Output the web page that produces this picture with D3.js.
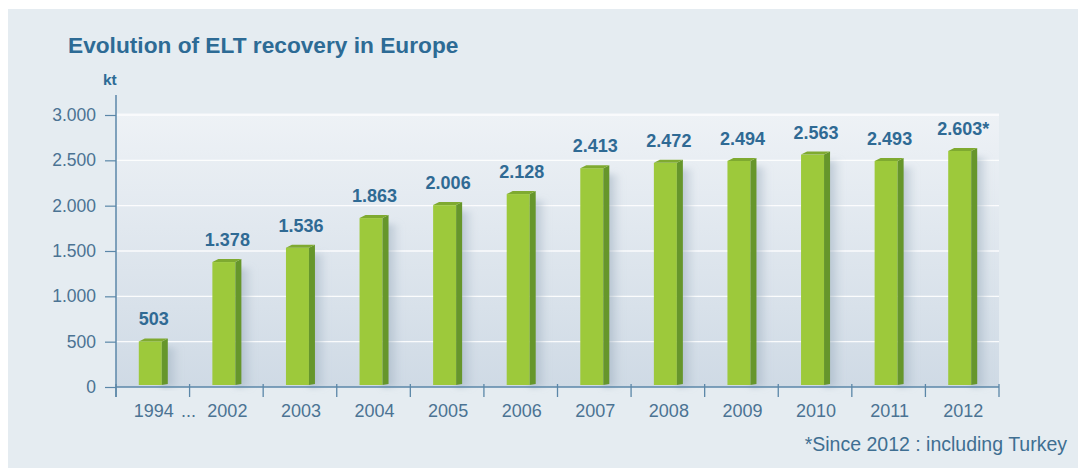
<!DOCTYPE html>
<html><head><meta charset="utf-8">
<script src="https://cdn.jsdelivr.net/npm/d3@7"></script>
<style>html,body{margin:0;padding:0;background:#fff;}svg{display:block;font-family:"Liberation Sans",Arial,sans-serif;}</style>
</head><body>
<script>
const categories = ["1994","2002","2003","2004","2005","2006","2007","2008","2009","2010","2011","2012"];
const values = [503,1378,1536,1863,2006,2128,2413,2472,2494,2563,2493,2603];
const valueLabels = ["503","1.378","1.536","1.863","2.006","2.128","2.413","2.472","2.494","2.563","2.493","2.603*"];
const yTicks = [0,500,1000,1500,2000,2500,3000];
const yTickLabels = ["0","500","1.000","1.500","2.000","2.500","3.000"];

const W=1078,H=468;
const svg=d3.select("body").append("svg").attr("width",W).attr("height",H);
const defs=svg.append("defs");
const pg=defs.append("linearGradient").attr("id","plotbg").attr("x1",0).attr("y1",0).attr("x2",0).attr("y2",1);
pg.append("stop").attr("offset","0%").attr("stop-color","#eef2f6");
pg.append("stop").attr("offset","100%").attr("stop-color","#cfdae5");
const sg=defs.append("linearGradient").attr("id","shade").attr("x1",0).attr("y1",0).attr("x2",1).attr("y2",0);
sg.append("stop").attr("offset","0%").attr("stop-color","#9fb0c0").attr("stop-opacity",0.8);
sg.append("stop").attr("offset","100%").attr("stop-color","#9fb0c0").attr("stop-opacity",0);
const blur=defs.append("filter").attr("id","blur").attr("x","-50%").attr("y","-10%").attr("width","200%").attr("height","120%");
blur.append("feGaussianBlur").attr("stdDeviation",3);

// panel
svg.append("rect").attr("x",8).attr("y",9).attr("width",W-8).attr("height",H-9).attr("fill","#e5ecf1");

const m={l:116,r:999,t:115,b:387};
const x=d3.scaleBand().domain(categories).range([m.l,m.r]).padding(0);
const y=d3.scaleLinear().domain([0,3000]).range([m.b,m.t]);

svg.append("rect").attr("x",m.l).attr("y",m.t-2).attr("width",m.r-m.l).attr("height",m.b-m.t+2).attr("fill","url(#plotbg)");

// grid
svg.append("g").selectAll("line").data(yTicks.filter(d=>d>0)).join("line")
  .attr("x1",m.l).attr("x2",m.r).attr("y1",d=>y(d)).attr("y2",d=>y(d))
  .attr("stroke","#ffffff").attr("stroke-width",1.3).attr("opacity",0.9);

// bars
const fw=23, sw=6, sk=3;
const bars=svg.append("g").selectAll("g").data(categories).join("g");
bars.each(function(c,i){
  const g=d3.select(this);
  const cx=x(c)+x.bandwidth()/2;
  const x0=cx-14, x1=x0+fw, x2=x1+sw;
  const yt=y(values[i]), yb=y(0);
  g.append("rect").attr("x",x1).attr("y",yt+6).attr("width",18).attr("height",yb-yt-6).attr("fill","url(#shade)").attr("filter","url(#blur)");
  g.append("rect").attr("x",x0).attr("y",yt).attr("width",fw).attr("height",yb-yt-2).attr("fill","#9dc93b");
  g.append("path").attr("d",`M${x1},${yt}L${x2},${yt-sk}L${x2},${yb-3}L${x1},${yb-2}Z`).attr("fill","#66962b");
  g.append("path").attr("d",`M${x0},${yt}L${x0+sw},${yt-sk}L${x2},${yt-sk}L${x1},${yt}Z`).attr("fill","#7faa30");
  g.append("text").attr("x",cx+1).attr("y",yt-16).attr("text-anchor","middle")
    .attr("font-size",18).attr("font-weight","bold").attr("fill","#2f6a94").text(valueLabels[i]);
});

// y axis
const yAxis=d3.axisLeft(y).tickValues(yTicks).tickFormat((d,i)=>yTickLabels[i]).tickSize(11).tickPadding(9);
const gy=svg.append("g").attr("transform",`translate(${m.l},0)`).call(yAxis);
gy.select(".domain").remove();
gy.selectAll("line").attr("stroke","#5b87a8").attr("stroke-width",1.2);
gy.selectAll("text").attr("font-size",17.5).attr("fill","#4b7393").attr("font-family","Liberation Sans, Arial, sans-serif");
svg.append("line").attr("x1",m.l).attr("x2",m.l).attr("y1",95).attr("y2",m.b+10).attr("stroke","#5b87a8").attr("stroke-width",1.5);

// x axis
svg.append("line").attr("x1",m.l).attr("x2",m.r).attr("y1",m.b).attr("y2",m.b).attr("stroke","#5b87a8").attr("stroke-width",1.5);
const bounds=categories.map(c=>x(c)).concat([m.r]);
svg.append("g").selectAll("line").data(bounds).join("line")
  .attr("x1",d=>d).attr("x2",d=>d).attr("y1",m.b-3).attr("y2",m.b+10).attr("stroke","#5b87a8").attr("stroke-width",1.3);
svg.append("g").selectAll("text").data(categories).join("text")
  .attr("x",d=>x(d)+x.bandwidth()/2+1).attr("y",417).attr("text-anchor","middle")
  .attr("font-size",18).attr("fill","#4b7393").text(d=>d);
svg.append("text").attr("x",x(categories[1])-1).attr("y",417).attr("text-anchor","middle")
  .attr("font-size",18).attr("fill","#4b7393").text("...");

// title & unit
svg.append("text").attr("x",68).attr("y",53).attr("font-size",22.7).attr("font-weight","bold").attr("fill","#2d6b95").text("Evolution of ELT recovery in Europe");
svg.append("text").attr("x",103).attr("y",85).attr("font-size",15.5).attr("font-weight","bold").attr("fill","#2d6b95").text("kt");
svg.append("text").attr("x",1067).attr("y",451).attr("text-anchor","end").attr("font-size",19.5).attr("fill","#3f6f92").text("*Since 2012 : including Turkey");
</script>
</body></html>
